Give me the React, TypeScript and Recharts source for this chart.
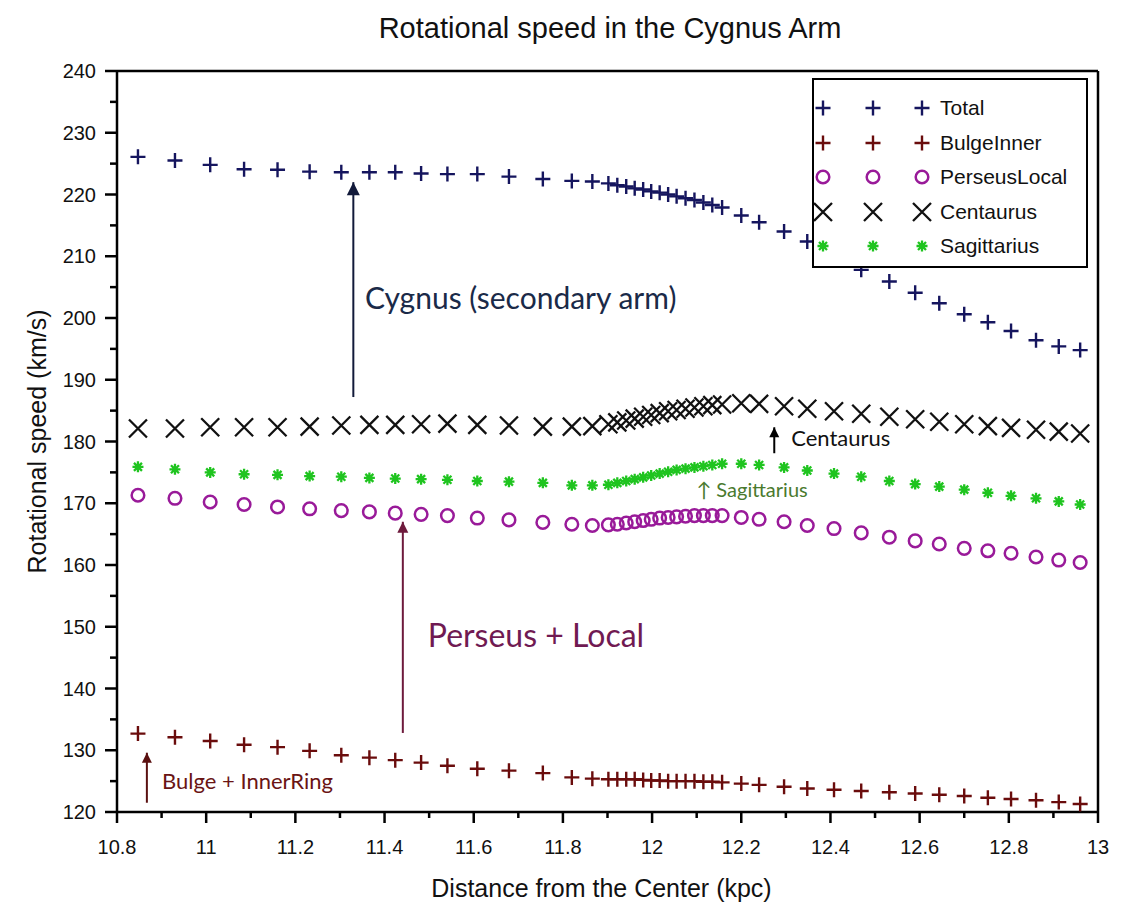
import React from 'react';
import { ScatterChart, Scatter, XAxis, YAxis, ReferenceLine, ReferenceDot, Legend } from 'recharts';

// distance from the galactic center (kpc), shared by every series
const radius = [
  10.847, 10.93, 11.009, 11.085, 11.16, 11.232, 11.303, 11.366, 11.424, 11.482, 11.541, 11.608, 11.679, 11.755, 11.82, 11.866,
  11.902, 11.922, 11.942, 11.961, 11.98, 11.998, 12.017, 12.036, 12.055, 12.075, 12.095, 12.115, 12.135, 12.157,
  12.2, 12.24, 12.296, 12.348, 12.408, 12.469, 12.532, 12.59, 12.644, 12.7, 12.753, 12.805, 12.861, 12.912, 12.96,
];

const total = [
  226.1, 225.5, 224.8, 224.1, 224.0, 223.7, 223.6, 223.6, 223.6, 223.4, 223.3, 223.3, 222.9, 222.5, 222.2, 222.1,
  221.8, 221.5, 221.3, 221.0, 220.8, 220.5, 220.3, 220.0, 219.7, 219.4, 219.1, 218.7, 218.3, 217.9,
  216.6, 215.5, 214.0, 212.4, 210.0, 207.8, 205.9, 204.1, 202.4, 200.6, 199.3, 197.9, 196.4, 195.4, 194.8,
];

const bulgeInner = [
  132.7, 132.1, 131.5, 130.9, 130.5, 129.9, 129.2, 128.8, 128.4, 128.0, 127.5, 127.0, 126.7, 126.3, 125.6, 125.4,
  125.3, 125.3, 125.3, 125.3, 125.2, 125.1, 125.1, 125.0, 125.0, 125.0, 125.0, 124.9, 124.9, 124.8,
  124.6, 124.4, 124.1, 123.8, 123.6, 123.4, 123.2, 123.0, 122.8, 122.6, 122.3, 122.1, 121.9, 121.6, 121.3,
];

const perseusLocal = [
  171.3, 170.8, 170.2, 169.8, 169.4, 169.1, 168.8, 168.6, 168.4, 168.2, 168.0, 167.6, 167.3, 166.9, 166.6, 166.4,
  166.5, 166.6, 166.8, 167.0, 167.2, 167.4, 167.6, 167.7, 167.8, 167.9, 168.0, 168.0, 168.0, 168.0,
  167.7, 167.4, 167.0, 166.4, 165.9, 165.2, 164.5, 163.9, 163.4, 162.7, 162.3, 161.9, 161.3, 160.8, 160.4,
];

const centaurus = [
  182.1, 182.1, 182.3, 182.3, 182.3, 182.4, 182.6, 182.7, 182.7, 182.8, 182.9, 182.7, 182.6, 182.4, 182.4, 182.5,
  182.8, 183.1, 183.4, 183.7, 184.0, 184.3, 184.6, 184.9, 185.1, 185.3, 185.5, 185.7, 185.9, 186.0,
  186.2, 186.1, 185.7, 185.3, 184.9, 184.5, 184.0, 183.6, 183.2, 182.8, 182.5, 182.2, 181.9, 181.6, 181.3,
];

const sagittarius = [
  175.9, 175.5, 175.0, 174.7, 174.6, 174.4, 174.3, 174.1, 174.0, 173.9, 173.8, 173.6, 173.5, 173.3, 172.9, 172.9,
  173.0, 173.3, 173.6, 173.9, 174.2, 174.5, 174.8, 175.1, 175.4, 175.6, 175.8, 176.0, 176.2, 176.4,
  176.4, 176.2, 175.8, 175.3, 174.8, 174.3, 173.6, 173.1, 172.7, 172.2, 171.7, 171.2, 170.8, 170.3, 169.8,
];

const xTicks = [10.8, 10.9, 11, 11.1, 11.2, 11.3, 11.4, 11.5, 11.6, 11.7, 11.8, 11.9, 12, 12.1, 12.2, 12.3, 12.4, 12.5, 12.6, 12.7, 12.8, 12.9, 13];
const xLabels = ['10.8', '11', '11.2', '11.4', '11.6', '11.8', '12', '12.2', '12.4', '12.6', '12.8', '13'];
const yTicks = [120, 125, 130, 135, 140, 145, 150, 155, 160, 165, 170, 175, 180, 185, 190, 195, 200, 205, 210, 215, 220, 225, 230, 235, 240];
const yLabels = ['120', '130', '140', '150', '160', '170', '180', '190', '200', '210', '220', '230', '240'];

const toPoints = (vals: number[]) => radius.map((x, i) => ({ x, y: vals[i] }));

const AXIS_FONT = '"Liberation Sans", Arial, sans-serif';
const NOTE_FONT = 'Lato, "Open Sans", sans-serif';

type MarkProps = { cx: number; cy: number; color: string };

const PlusMark = ({ cx, cy, color }: MarkProps) => (
  <path d={`M${cx - 7.5},${cy}H${cx + 7.5}M${cx},${cy - 7.5}V${cy + 7.5}`} stroke={color} strokeWidth={2.4} fill="none" />
);
const CrossMark = ({ cx, cy, color }: MarkProps) => (
  <path d={`M${cx - 9},${cy - 9}L${cx + 9},${cy + 9}M${cx + 9},${cy - 9}L${cx - 9},${cy + 9}`} stroke={color} strokeWidth={2.3} fill="none" />
);
const RingMark = ({ cx, cy, color }: MarkProps) => (
  <circle cx={cx} cy={cy} r={6.3} stroke={color} strokeWidth={2.5} fill="none" />
);
const StarMark = ({ cx, cy, color }: MarkProps) => (
  <path
    d={`M${cx - 5.5},${cy}H${cx + 5.5}M${cx},${cy - 5.5}V${cy + 5.5}M${cx - 4},${cy - 4}L${cx + 4},${cy + 4}M${cx + 4},${cy - 4}L${cx - 4},${cy + 4}`}
    stroke={color}
    strokeWidth={2.3}
    fill="none"
  />
);

const series = [
  { name: 'Total', values: total, color: '#15155e', Mark: PlusMark },
  { name: 'BulgeInner', values: bulgeInner, color: '#6a0c0c', Mark: PlusMark },
  { name: 'PerseusLocal', values: perseusLocal, color: '#991a99', Mark: RingMark },
  { name: 'Centaurus', values: centaurus, color: '#111111', Mark: CrossMark },
  { name: 'Sagittarius', values: sagittarius, color: '#1fc41f', Mark: StarMark },
];

const XTick = (props: any) => {
  const { x, y, payload } = props;
  const label = xLabels.find((l) => Math.abs(parseFloat(l) - payload.value) < 1e-6);
  return (
    <g>
      <line x1={x} x2={x} y1={y} y2={y + (label ? 11 : 6)} stroke="#000" strokeWidth={2.5} />
      {label && (
        <text x={x} y={y + 42} textAnchor="middle" fontFamily={AXIS_FONT} fontSize={20} fill="#111">
          {label}
        </text>
      )}
    </g>
  );
};

const YTick = (props: any) => {
  const { x, y, payload } = props;
  const label = yLabels.find((l) => Math.abs(parseFloat(l) - payload.value) < 1e-6);
  return (
    <g>
      <line x1={x} x2={x - (label ? 12 : 7)} y1={y} y2={y} stroke="#000" strokeWidth={2.5} />
      {label && (
        <text x={x - 21} y={y} dy="0.36em" textAnchor="end" fontFamily={AXIS_FONT} fontSize={20} fill="#111">
          {label}
        </text>
      )}
    </g>
  );
};

const renderLegend = () => (
  <div
    style={{
      width: 276,
      height: 190,
      boxSizing: 'border-box',
      border: '2.5px solid #000',
      background: '#fff',
      paddingTop: 11,
      fontFamily: AXIS_FONT,
      fontSize: 21,
      color: '#111',
    }}
  >
    {series.map((s) => (
      <div key={s.name} style={{ display: 'flex', alignItems: 'center', height: 34.5 }}>
        <svg width={124} height={34} style={{ flex: 'none' }}>
          {[9, 59, 108].map((cx) => (
            <s.Mark key={cx} cx={cx} cy={17} color={s.color} />
          ))}
        </svg>
        <span style={{ marginLeft: 2 }}>{s.name}</span>
      </div>
    ))}
  </div>
);

// annotation arrows: x, tail y, tip y
const arrows = [
  { x: 11.33, y0: 187.2, y1: 222.0, color: '#121a3a', head: 13 },
  { x: 11.441, y0: 132.8, y1: 167.0, color: '#6e1a3c', head: 11 },
  { x: 10.867, y0: 121.5, y1: 129.6, color: '#5a1010', head: 10 },
  { x: 12.274, y0: 178.1, y1: 182.3, color: '#000', head: 10 },
];

const notes = [
  { x: 11.356, y: 201.4, text: 'Cygnus (secondary arm)', color: '#1a2a48', size: 30 },
  { x: 11.497, y: 146.8, text: 'Perseus + Local', color: '#701a52', size: 32 },
  { x: 10.901, y: 123.7, text: 'Bulge + InnerRing', color: '#6a1414', size: 22 },
  { x: 12.312, y: 179.2, text: 'Centaurus', color: '#111', size: 22 },
  { x: 12.099, y: 171.0, text: '↑ Sagittarius', color: '#4a7a2e', size: 20 },
];

export default function App() {
  return (
    <div style={{ position: 'absolute', left: 0, top: 0, width: 1134, height: 906, background: '#fff' }}>
      <div
        style={{
          position: 'absolute',
          left: 0,
          top: 12,
          width: 1220,
          textAlign: 'center',
          fontFamily: AXIS_FONT,
          fontSize: 29,
          color: '#111',
        }}
      >
        Rotational speed in the Cygnus Arm
      </div>
      <ScatterChart width={1134} height={906} margin={{ top: 71, right: 36, bottom: 54, left: 57 }}>
        <XAxis
          type="number"
          dataKey="x"
          domain={[10.8, 13]}
          ticks={xTicks}
          interval={0}
          allowDataOverflow
          height={40}
          tickSize={0}
          tickMargin={0}
          tickLine={false}
          tick={<XTick />}
          axisLine={{ stroke: '#000', strokeWidth: 2.5 }}
          label={(p: any) => (
            <text
              x={p.viewBox.x + p.viewBox.width / 2 - 6}
              y={p.viewBox.y + 85}
              textAnchor="middle"
              fontFamily={AXIS_FONT}
              fontSize={25}
              fill="#111"
            >
              Distance from the Center (kpc)
            </text>
          )}
        />
        <YAxis
          type="number"
          dataKey="y"
          domain={[120, 240]}
          ticks={yTicks}
          interval={0}
          allowDataOverflow
          width={60}
          tickSize={0}
          tickMargin={0}
          tickLine={false}
          tick={<YTick />}
          axisLine={{ stroke: '#000', strokeWidth: 2.5 }}
          label={(p: any) => {
            const cx = p.viewBox.x - 20;
            const cy = p.viewBox.y + p.viewBox.height / 2;
            return (
              <text
                x={cx}
                y={cy}
                transform={`rotate(-90 ${cx} ${cy})`}
                textAnchor="middle"
                dy="0.35em"
                fontFamily={AXIS_FONT}
                fontSize={25}
                fill="#111"
              >
                Rotational speed (km/s)
              </text>
            );
          }}
        />
        <ReferenceLine y={240} stroke="#000" strokeWidth={2.5} />
        <ReferenceLine x={13} stroke="#000" strokeWidth={2.5} />

        {series.map((s) => (
          <Scatter
            key={s.name}
            name={s.name}
            data={toPoints(s.values)}
            isAnimationActive={false}
            shape={(p: any) => <s.Mark cx={p.cx} cy={p.cy} color={s.color} />}
          />
        ))}

        {arrows.map((a, i) => (
          <ReferenceLine
            key={`al${i}`}
            segment={[
              { x: a.x, y: a.y0 },
              { x: a.x, y: a.y1 },
            ]}
            stroke={a.color}
            strokeWidth={2}
          />
        ))}
        {arrows.map((a, i) => (
          <ReferenceDot
            key={`ah${i}`}
            x={a.x}
            y={a.y1}
            r={0}
            shape={(p: any) => (
              <path
                d={`M${p.cx},${p.cy}L${p.cx - a.head / 2},${p.cy + a.head}L${p.cx + a.head / 2},${p.cy + a.head}Z`}
                fill={a.color}
              />
            )}
          />
        ))}
        {notes.map((n, i) => (
          <ReferenceDot
            key={`n${i}`}
            x={n.x}
            y={n.y}
            r={0}
            shape={(p: any) => (
              <text x={p.cx} y={p.cy} fontFamily={NOTE_FONT} fontSize={n.size} fill={n.color}>
                {n.text}
              </text>
            )}
          />
        ))}

        <Legend
          layout="vertical"
          align="center"
          verticalAlign="middle"
          content={renderLegend}
          wrapperStyle={{ left: 812, top: 78, width: 276, height: 190 }}
        />
      </ScatterChart>
    </div>
  );
}
